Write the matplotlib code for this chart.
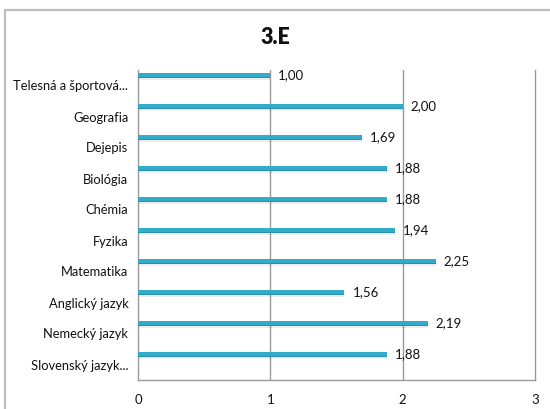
import matplotlib

matplotlib.use("Agg")
import matplotlib.pyplot as plt
from matplotlib.patches import Rectangle

subjects = [
    "Slovenský jazyk...",
    "Nemecký jazyk",
    "Anglický jazyk",
    "Matematika",
    "Fyzika",
    "Chémia",
    "Biológia",
    "Dejepis",
    "Geografia",
    "Telesná a športová...",
]
grades = [1.88, 2.19, 1.56, 2.25, 1.94, 1.88, 1.88, 1.69, 2.00, 1.00]
x_ticks = [0, 1, 2, 3]

BAR = "#33abcb"
BAR_DARK = "#2a8fab"
GRID = "#9a9a9a"
FRAME = "#bdbdbd"

plt.rcParams["font.family"] = ["Lato", "DejaVu Sans"]

fig = plt.figure(figsize=(5.5, 4.09), dpi=100)
fig.patches.append(Rectangle((5 / 550, -0.05), 1.2, 1 - 9.5 / 409 + 0.05, transform=fig.transFigure,
                             fill=False, ec=FRAME, lw=1.6))
fig.text(0.5, 1 - 38 / 409, "3.E", ha="center", va="center", fontsize=15.5, fontweight="heavy", color="#111111")

ax = fig.add_axes([138 / 550, 29 / 409, 397 / 550, 310 / 409])
pos = list(range(len(subjects)))
offset = 0.32
# soft shadow under the bar, then the bar with a slightly darker lower edge
ax.barh([p + offset - 0.07 for p in pos], grades, height=0.12, color="#000000", alpha=0.07, zorder=2)
ax.barh([p + offset for p in pos], grades, height=0.18, color=BAR, zorder=3)
ax.barh([p + offset - 0.06 for p in pos], grades, height=0.06, color=BAR_DARK, zorder=4)

for p, v in zip(pos, grades):
    ax.text(v + 0.06, p + offset, f"{v:.2f}".replace(".", ","), ha="left", va="center", fontsize=9.5, color="#111111",
            zorder=5)

ax.set_xlim(0, 3)
ax.set_ylim(-0.5, len(subjects) - 0.5)
ax.set_yticks(pos)
ax.set_yticklabels(subjects, fontsize=9.3, color="#111111")
ax.set_xticks(x_ticks)
ax.set_xticklabels([str(t) for t in x_ticks], fontsize=9.5, color="#111111")
ax.tick_params(length=0, pad=7)
ax.tick_params(axis="x", pad=10)
for t in [1, 2]:
    ax.axvline(t, color=GRID, lw=1.0, zorder=1)
ax.spines["top"].set_visible(False)
for s in ["left", "right", "bottom"]:
    ax.spines[s].set_color(GRID)
    ax.spines[s].set_linewidth(1.0)

fig.savefig("out.png", dpi=100)
